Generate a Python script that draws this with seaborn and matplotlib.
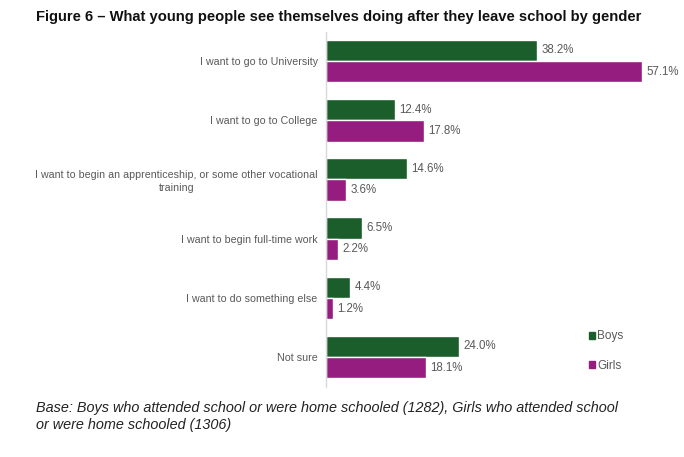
import matplotlib
matplotlib.use("Agg")
import matplotlib.pyplot as plt
import seaborn as sns
import pandas as pd
from matplotlib.patches import Patch

categories = [
    "I want to go to University",
    "I want to go to College",
    "I want to begin an apprenticeship, or some other vocational\ntraining",
    "I want to begin full-time work",
    "I want to do something else",
    "Not sure",
]
boys = [38.2, 12.4, 14.6, 6.5, 4.4, 24.0]
girls = [57.1, 17.8, 3.6, 2.2, 1.2, 18.1]
series = ["Boys", "Girls"]
colors = ["#1b5e2b", "#951d7f"]

df = pd.DataFrame({
    "category": categories * 2,
    "value": boys + girls,
    "gender": [series[0]] * len(categories) + [series[1]] * len(categories),
})

sns.set_theme(style="white")
plt.rcParams["font.family"] = ["Liberation Sans", "DejaVu Sans"]

fig = plt.figure(figsize=(6.84, 4.57), dpi=100)
ax = fig.add_axes([0.4766, 0.154, 0.4854, 0.777])

sns.barplot(data=df, y="category", x="value", hue="gender", order=categories,
            hue_order=series, palette=colors, orient="h", width=0.72,
            saturation=1, ax=ax, legend=False)

ax.set_xlim(0, 60)
ax.set_ylim(5.5, -0.5)
ax.set_xlabel("")
ax.set_ylabel("")
ax.set_xticks([])
for s in ["top", "right", "bottom"]:
    ax.spines[s].set_visible(False)
ax.spines["left"].set_color("#d9d9d9")
ax.spines["left"].set_linewidth(1)
ax.tick_params(axis="y", length=0, pad=6, labelsize=7.7, labelcolor="#595959")
for lbl in ax.get_yticklabels():
    lbl.set_horizontalalignment("right")
    lbl.set_multialignment("center")
    lbl.set_linespacing(1.35)

for cont in ax.containers:
    ax.bar_label(cont, fmt="%.1f%%", padding=3, fontsize=8.3, color="#595959")

handles = [Patch(facecolor=c, edgecolor=c) for c in colors]
leg = ax.legend(handles, series, loc="center left", bbox_to_anchor=(0.76, 0.10),
                frameon=False, fontsize=8.5, handlelength=0.55, handleheight=0.55,
                handletextpad=0.15, labelspacing=1.5)
for t in leg.get_texts():
    t.set_color("#595959")

fig.text(0.053, 0.962, "Figure 6 \u2013 What young people see themselves doing after they leave school by gender",
         fontsize=10.6, fontweight="bold", color="#111111", ha="left", va="center")
fig.text(0.052, 0.107, "Base: Boys who attended school or were home schooled (1282), Girls who attended school",
         fontsize=10.4, style="italic", color="#222222", ha="left", va="center")
fig.text(0.052, 0.070, "or were home schooled (1306)",
         fontsize=10.4, style="italic", color="#222222", ha="left", va="center")

fig.savefig("out.png", dpi=100, facecolor="white")
